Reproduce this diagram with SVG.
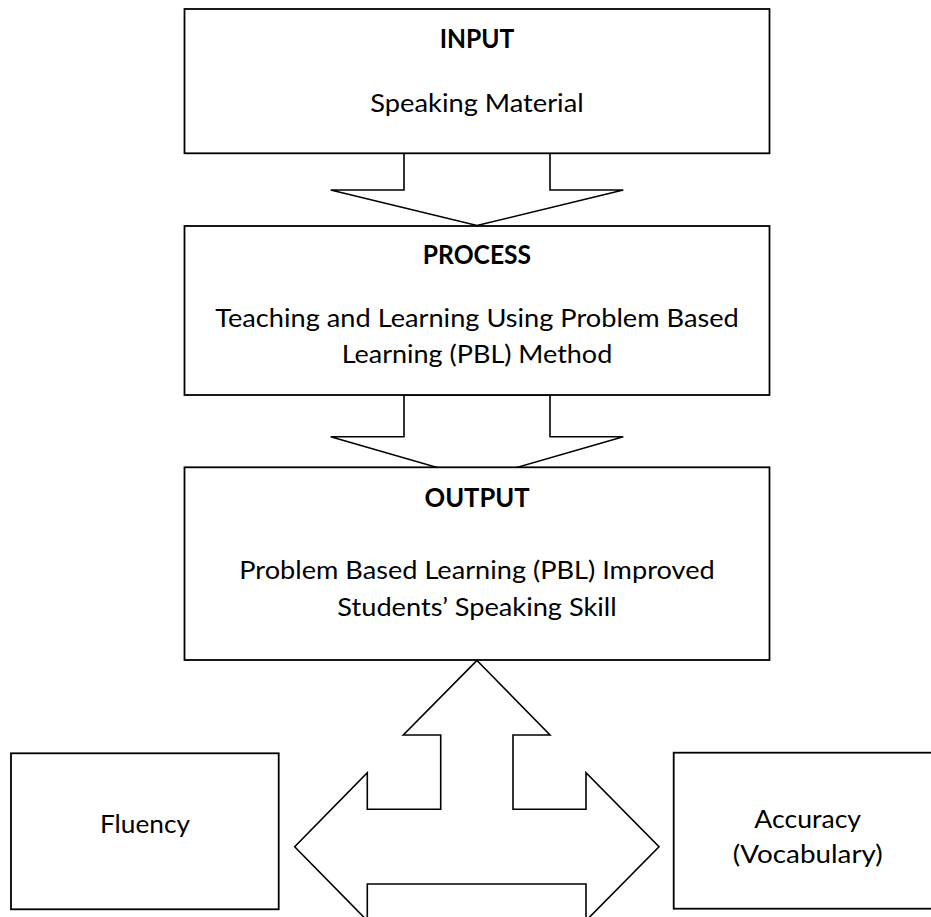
<svg xmlns="http://www.w3.org/2000/svg" width="931" height="917" viewBox="0 0 931 917">
  <style>
    .box { fill: #ffffff; stroke: #000000; stroke-width: 1.8; }
    .arrow { fill: #ffffff; stroke: #000000; stroke-width: 1.6; stroke-linejoin: miter; }
    .t { font-family: Lato, "Liberation Sans", "DejaVu Sans", sans-serif; font-size: 25px; text-anchor: middle; fill: #000000; }
    .b { font-weight: bold; font-size: 26.5px; }
  </style>
  <rect x="0" y="0" width="931" height="917" fill="#ffffff"/>

  <g id="connectors">
    <polygon class="arrow" points="404,153 404,190 330.7,190 477,225.5 623.3,190 550,190 550,153"/>
    <polygon class="arrow" points="404,395 404,436.7 330.7,436.7 477,479 623.3,436.7 550,436.7 550,395"/>
    <polygon class="arrow" points="477,660.5 550,735 513,735 513,809.3 586,809.3 586,772.7 659,846.7 586,920.7 586,884 367.3,884 367.3,920.7 294.7,846.7 367.3,772.7 367.3,809.3 440.7,809.3 440.7,735 403.3,735"/>
  </g>

  <g id="input">
    <rect class="box" x="184.5" y="9" width="585" height="144.3"/>
    <text class="t b" x="477" y="48.3" textLength="74.7" lengthAdjust="spacingAndGlyphs">INPUT</text>
    <text class="t" x="477" y="111.7" textLength="213.3" lengthAdjust="spacingAndGlyphs">Speaking Material</text>
  </g>

  <g id="process">
    <rect class="box" x="184.5" y="226" width="585" height="169"/>
    <text class="t b" x="477" y="264.3" textLength="108.3" lengthAdjust="spacingAndGlyphs">PROCESS</text>
    <text class="t" x="477" y="327" textLength="523.6" lengthAdjust="spacingAndGlyphs">Teaching and Learning Using Problem Based</text>
    <text class="t" x="477" y="363.3" textLength="270.6" lengthAdjust="spacingAndGlyphs">Learning (PBL) Method</text>
  </g>

  <g id="output">
    <rect class="box" x="184.5" y="467.3" width="585" height="192.7"/>
    <text class="t b" x="477" y="506.7" textLength="105" lengthAdjust="spacingAndGlyphs">OUTPUT</text>
    <text class="t" x="477" y="579" textLength="475.4" lengthAdjust="spacingAndGlyphs">Problem Based Learning (PBL) Improved</text>
    <text class="t" x="477" y="615.5" textLength="279.3" lengthAdjust="spacingAndGlyphs">Students’ Speaking Skill</text>
  </g>

  <g id="fluency">
    <rect class="box" x="11" y="753.3" width="267.7" height="156"/>
    <text class="t" x="145" y="833.3" textLength="90" lengthAdjust="spacingAndGlyphs">Fluency</text>
  </g>

  <g id="accuracy">
    <rect class="box" x="673.7" y="752.7" width="268" height="156"/>
    <text class="t" x="807.7" y="827.7" textLength="106.7" lengthAdjust="spacingAndGlyphs">Accuracy</text>
    <text class="t" x="807.7" y="863.3" textLength="150" lengthAdjust="spacingAndGlyphs">(Vocabulary)</text>
  </g>
</svg>
